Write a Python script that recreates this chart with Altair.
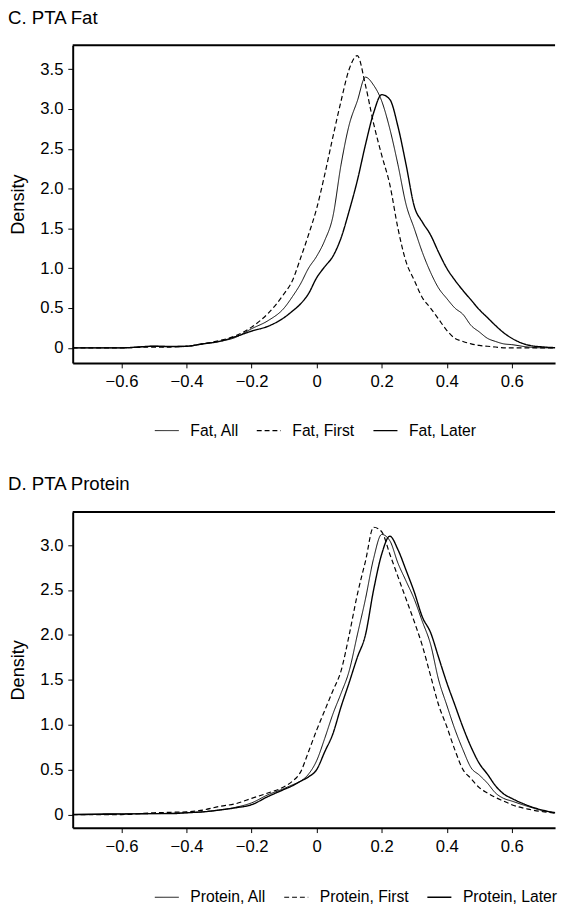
import altair as alt
import pandas as pd

# ---------------- data ----------------
x_grid = [-0.75, -0.6, -0.5, -0.45, -0.4, -0.35, -0.3, -0.25, -0.2, -0.15, -0.1, -0.075,
          -0.05, -0.025, 0.0, 0.025, 0.05, 0.075, 0.1, 0.125, 0.15, 0.175, 0.2, 0.225,
          0.25, 0.275, 0.3, 0.325, 0.35, 0.375, 0.4, 0.425, 0.45, 0.475, 0.5, 0.525,
          0.55, 0.575, 0.6, 0.65, 0.7, 0.75]

fat_names = ["Fat, All", "Fat, First", "Fat, Later"]
fat_all = [0.0, 0.0, 0.02, 0.02, 0.02, 0.05, 0.08, 0.13, 0.24, 0.34, 0.5, 0.64,
           0.8, 1.0, 1.15, 1.35, 1.65, 2.3, 2.8, 3.1, 3.4, 3.3, 3.1, 2.75,
           2.3, 1.8, 1.5, 1.2, 0.95, 0.75, 0.62, 0.5, 0.42, 0.28, 0.2, 0.12,
           0.08, 0.05, 0.04, 0.01, 0.0, 0.0]
fat_first = [0.0, 0.0, 0.01, 0.01, 0.02, 0.05, 0.09, 0.15, 0.26, 0.43, 0.68, 0.84,
             1.12, 1.42, 1.75, 2.18, 2.65, 3.1, 3.5, 3.67, 3.3, 2.82, 2.42, 2.05,
             1.5, 1.08, 0.85, 0.63, 0.5, 0.36, 0.22, 0.12, 0.08, 0.05, 0.03, 0.02,
             0.01, 0.0, 0.0, 0.0, 0.0, 0.0]
fat_later = [0.0, 0.0, 0.02, 0.015, 0.02, 0.05, 0.08, 0.14, 0.21, 0.27, 0.38, 0.46,
             0.55, 0.68, 0.88, 1.02, 1.15, 1.38, 1.72, 2.1, 2.55, 2.95, 3.18, 3.12,
             2.78, 2.3, 1.78, 1.58, 1.42, 1.2, 1.0, 0.85, 0.72, 0.6, 0.48, 0.38,
             0.28, 0.19, 0.12, 0.035, 0.01, 0.0]

protein_names = ["Protein, All", "Protein, First", "Protein, Later"]
protein_all = [0.0, 0.01, 0.01, 0.015, 0.02, 0.03, 0.05, 0.08, 0.13, 0.22, 0.29, 0.33,
               0.37, 0.45, 0.6, 0.85, 1.12, 1.35, 1.6, 2.0, 2.4, 2.85, 3.12, 3.05,
               2.8, 2.6, 2.4, 2.15, 1.9, 1.5, 1.22, 0.95, 0.72, 0.52, 0.44, 0.35,
               0.24, 0.18, 0.15, 0.09, 0.04, 0.015]
protein_first = [0.0, 0.0, 0.02, 0.025, 0.03, 0.05, 0.09, 0.12, 0.18, 0.24, 0.31, 0.37,
                 0.47, 0.7, 0.94, 1.16, 1.38, 1.6, 2.0, 2.45, 2.82, 3.2, 3.15, 2.9,
                 2.65, 2.4, 2.15, 1.88, 1.55, 1.22, 0.98, 0.72, 0.5, 0.4, 0.3, 0.24,
                 0.19, 0.15, 0.11, 0.06, 0.03, 0.01]
protein_later = [0.0, 0.005, 0.01, 0.01, 0.02, 0.03, 0.05, 0.075, 0.11, 0.2, 0.28, 0.32,
                 0.37, 0.42, 0.5, 0.7, 0.9, 1.2, 1.47, 1.75, 2.0, 2.5, 2.9, 3.1,
                 2.95, 2.72, 2.48, 2.2, 2.03, 1.75, 1.47, 1.22, 0.97, 0.75, 0.57, 0.45,
                 0.32, 0.23, 0.18, 0.1, 0.045, 0.01]

x_ticks = [-0.6, -0.4, -0.2, 0.0, 0.2, 0.4, 0.6]
fat_y_ticks = [0.0, 0.5, 1.0, 1.5, 2.0, 2.5, 3.0, 3.5]
protein_y_ticks = [0.0, 0.5, 1.0, 1.5, 2.0, 2.5, 3.0]
panel_titles = ["C. PTA Fat", "D. PTA Protein"]

FONT = "Liberation Sans"
PLOT_W = 492
LABEL_EXPR = "datum.value == 0 ? '0' : format(datum.value, '.1f')"


def panel(title, names, series, ydomain, yticks, height):
    rows = []
    for name, vals in zip(names, series):
        for xv, dv in zip(x_grid, vals):
            rows.append({"x": xv, "density": dv, "series": name})
    df = pd.DataFrame(rows)

    legend = alt.Legend(title=None, orient="none", direction="horizontal",
                        legendX=83, legendY=380)
    lines = alt.Chart(df).mark_line(clip=True, color="black", interpolate="monotone").encode(
        x=alt.X("x:Q",
                scale=alt.Scale(domain=[-0.75, 0.733], nice=False, zero=False),
                axis=alt.Axis(values=x_ticks, title=None, labelExpr=LABEL_EXPR,
                              grid=False, labelPadding=6)),
        y=alt.Y("density:Q",
                scale=alt.Scale(domain=ydomain, nice=False, zero=False),
                axis=alt.Axis(values=yticks, title="Density", labelExpr=LABEL_EXPR,
                              grid=False, labelPadding=5, titlePadding=13)),
        strokeDash=alt.StrokeDash("series:N",
                                  scale=alt.Scale(domain=names, range=[[1, 0], [5, 3], [1, 0]]),
                                  legend=legend),
        strokeWidth=alt.StrokeWidth("series:N",
                                    scale=alt.Scale(domain=names, range=[1.0, 1.4, 2.6]),
                                    legend=legend),
        detail="series:N",
    )

    top_border = alt.Chart(pd.DataFrame({"a": [0]})).mark_rule(color="black", strokeWidth=2).encode(
        x=alt.value(0), x2=alt.value(PLOT_W), y=alt.value(0)
    )

    title_text = alt.Chart(pd.DataFrame({"label": [title]})).mark_text(
        font=FONT, fontSize=19, color="black", align="left", baseline="alphabetic"
    ).encode(
        text="label:N", x=alt.value(-66), y=alt.value(-22)
    )

    return alt.layer(lines, top_border, title_text).properties(width=PLOT_W, height=height)


top = panel(panel_titles[0], fat_names, [fat_all, fat_first, fat_later],
            [-0.19, 3.80], fat_y_ticks, 324)
bottom = panel(panel_titles[1], protein_names, [protein_all, protein_first, protein_later],
               [-0.146, 3.37], protein_y_ticks, 322)

chart = alt.vconcat(top, bottom, spacing=38).resolve_scale(
    strokeDash="independent", strokeWidth="independent", x="independent", y="independent"
).resolve_legend(
    strokeDash="independent", strokeWidth="independent"
).properties(
    padding={"top": -8, "left": 0, "right": 0, "bottom": 0}
).configure_view(
    stroke=None
).configure_axis(
    domainColor="black", domainWidth=2, tickColor="black", tickWidth=1, tickSize=5,
    labelFont=FONT, labelFontSize=17, labelColor="black",
    titleFont=FONT, titleFontSize=18.5, titleFontWeight="normal", titleColor="black",
).configure_legend(
    labelFont=FONT, labelFontSize=16, labelColor="black", symbolType="stroke",
    symbolSize=600, symbolStrokeColor="black", labelOffset=11, columnPadding=15,
)

chart.save("out.html", embed_options={"renderer": "svg", "actions": False})
